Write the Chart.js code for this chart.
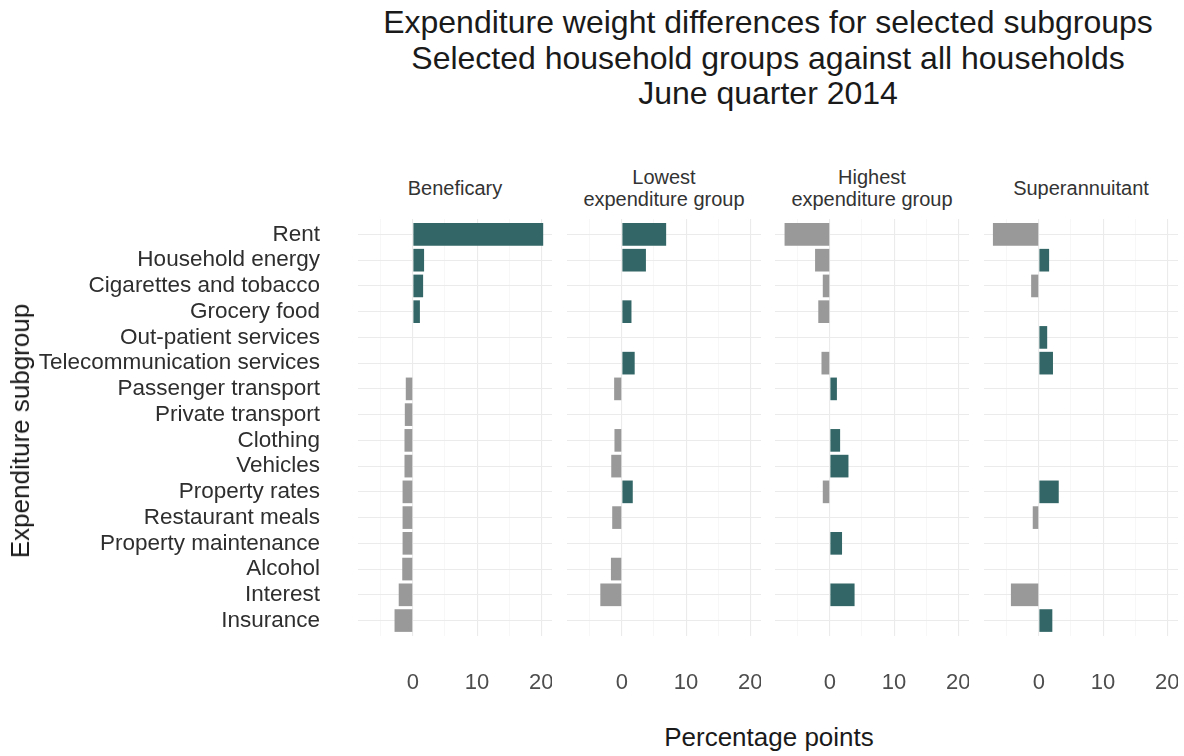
<!DOCTYPE html>
<html><head><meta charset="utf-8">
<script src="https://cdn.jsdelivr.net/npm/chart.js@4.4.0/dist/chart.umd.min.js"></script>
<style>
body{margin:0;background:#fff;}
#wrap{position:relative;width:1184px;height:756px;overflow:hidden;font-family:"Liberation Sans",Arial,sans-serif;background:#fff;}
canvas{position:absolute;}
#title{position:absolute;left:268px;top:5px;width:1000px;text-align:center;font-size:32px;line-height:35.5px;color:#1a1a1a;}
.strip{position:absolute;top:166px;height:44px;width:194px;display:flex;align-items:center;justify-content:center;text-align:center;font-size:20px;line-height:22px;color:#333;}
#xtitle{position:absolute;left:569px;width:400px;top:722px;text-align:center;font-size:26px;line-height:30px;color:#1a1a1a;}
#ytitle{position:absolute;left:20px;top:431px;transform:translate(-50%,-50%) rotate(-90deg);white-space:nowrap;font-size:26px;line-height:30px;color:#1a1a1a;}
</style></head>
<body>
<div id="wrap">
  <div id="title">Expenditure weight differences for selected subgroups<br>Selected household groups against all households<br>June quarter 2014</div>
  <div id="strips"></div>
  <canvas id="c0" width="552" height="478" style="left:0px;top:219px;"></canvas>
  <canvas id="c1" width="194" height="478" style="left:567px;top:219px;"></canvas>
  <canvas id="c2" width="194" height="478" style="left:775px;top:219px;"></canvas>
  <canvas id="c3" width="194" height="478" style="left:984px;top:219px;"></canvas>
  <div id="xtitle">Percentage points</div>
  <div id="ytitle">Expenditure subgroup</div>
</div>
<script>
const categories = ['Rent','Household energy','Cigarettes and tobacco','Grocery food','Out-patient services','Telecommunication services','Passenger transport','Private transport','Clothing','Vehicles','Property rates','Restaurant meals','Property maintenance','Alcohol','Interest','Insurance'];
const panelLabels = [['Beneficary'], ['Lowest','expenditure group'], ['Highest','expenditure group'], ['Superannuitant']];
const beneficary   = [20.3, 1.75, 1.6, 1.1, null, null, -1.1, -1.25, -1.3, -1.3, -1.6, -1.6, -1.6, -1.65, -2.2, -2.85];
const lowestExp    = [6.9, 3.75, null, 1.5, null, 2.0, -1.2, null, -1.15, -1.65, 1.7, -1.5, null, -1.7, -3.35, null];
const highestExp   = [-7.05, -2.3, -1.1, -1.8, null, -1.3, 1.1, null, 1.6, 2.9, -1.1, null, 1.9, null, 3.85, null];
const superann     = [-7.15, 1.6, -1.2, null, 1.3, 2.2, null, null, null, null, 3.1, -0.95, null, null, -4.35, 2.1];
const xTickValues  = [0, 10, 20];

const panelSeries = [beneficary, lowestExp, highestExp, superann];
const TEAL = '#336666', GREY = '#999999';
const FONT = '"Liberation Sans", Arial, sans-serif';
const XMIN = -8.54, XMAX = 21.67;
const panelLefts = [358, 567, 775, 984];

const stripBox = document.getElementById('strips');
panelLabels.forEach((lab, i) => {
  const d = document.createElement('div');
  d.className = 'strip';
  d.style.left = panelLefts[i] + 'px';
  d.innerHTML = lab.join('<br>');
  stripBox.appendChild(d);
});

function makeChart(id, values, showY) {
  const pts = [];
  values.forEach((v, i) => { if (v !== null) pts.push({x: v, y: i + 1}); });
  new Chart(document.getElementById(id), {
    type: 'bar',
    data: { datasets: [{
      data: pts,
      backgroundColor: c => (c.raw && c.raw.x >= 0) ? TEAL : GREY,
      borderWidth: 0,
      barPercentage: 0.88,
      categoryPercentage: 1
    }]},
    options: {
      indexAxis: 'y',
      responsive: false,
      animation: false,
      layout: { padding: 0 },
      plugins: { legend: { display: false }, tooltip: { enabled: false }, title: { display: false } },
      scales: {
        x: {
          type: 'linear', min: XMIN, max: XMAX, offset: false,
          border: { display: false },
          grid: {
            offset: false, drawTicks: false,
            color: c => (c.tick && xTickValues.includes(c.tick.value)) ? '#ebebeb' : '#f4f4f4',
            lineWidth: c => (c.tick && xTickValues.includes(c.tick.value)) ? 1.1 : 0.7
          },
          ticks: {
            stepSize: 5, includeBounds: false, autoSkip: false, maxRotation: 0,
            padding: 34, color: '#4d4d4d', font: { size: 22, family: FONT },
            callback: v => xTickValues.includes(v) ? String(v) : ''
          },
          afterFit: s => { s.height = 61; s.paddingLeft = 0; s.paddingRight = 0; }
        },
        y: {
          type: 'linear', reverse: true, min: 0.4, max: 16.6, offset: false,
          border: { display: false },
          grid: { offset: false, drawTicks: false, color: '#ebebeb', lineWidth: 1.1 },
          ticks: {
            display: showY, stepSize: 1, includeBounds: false, autoSkip: false,
            padding: 38, color: '#2e2e2e', font: { size: 22.5, family: FONT },
            callback: v => categories[v - 1] || ''
          },
          afterFit: s => { s.width = showY ? 358 : 0; s.paddingTop = 0; s.paddingBottom = 0; }
        }
      }
    }
  });
}
panelSeries.forEach((vals, i) => makeChart('c' + i, vals, i === 0));
</script>
</body></html>
